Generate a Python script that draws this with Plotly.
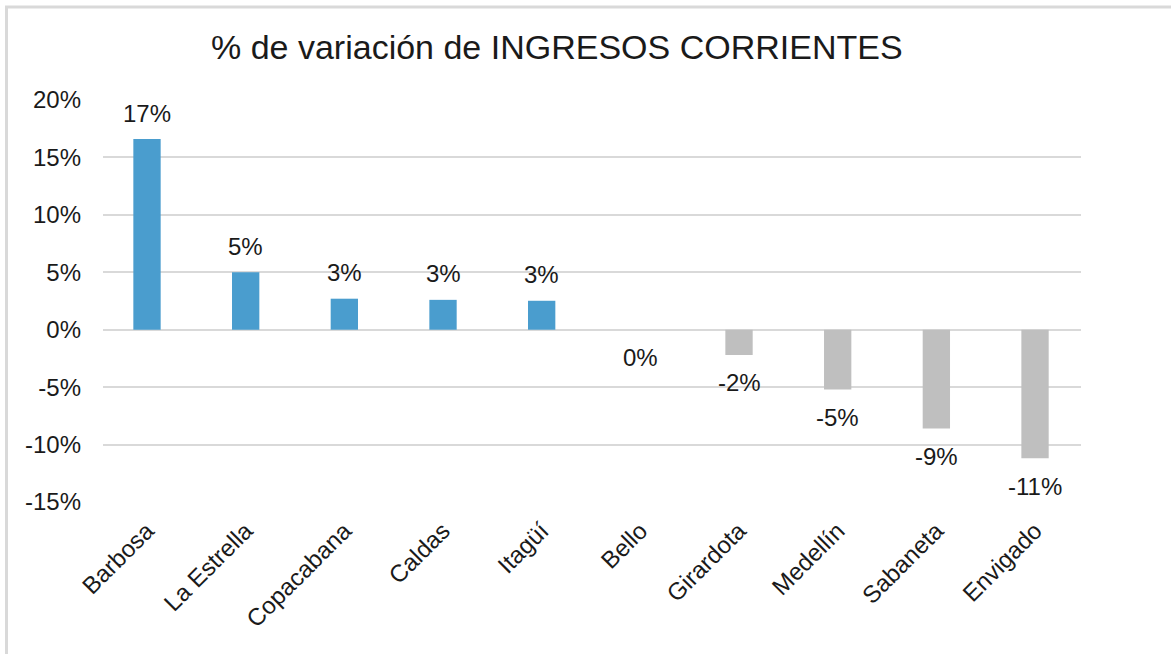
import plotly.graph_objects as go

categories = ["Barbosa", "La Estrella", "Copacabana", "Caldas", "Itagüí",
              "Bello", "Girardota", "Medellín", "Sabaneta", "Envigado"]
values = [0.166, 0.050, 0.027, 0.026, 0.0252, 0.0, -0.022, -0.052, -0.086, -0.112]
tick_vals = [-0.15, -0.10, -0.05, 0.0, 0.05, 0.10, 0.15, 0.20]
tick_text = ["-15%", "-10%", "-5%", "0%", "5%", "10%", "15%", "20%"]
title_text = "% de variación de INGRESOS CORRIENTES"

BLUE = "#4A9DCE"
GREY = "#BFBFBF"
FONT = "Liberation Sans, Arial, sans-serif"
TXT = "#1a1a1a"

colors = [BLUE if v > 0 else GREY for v in values]

fig = go.Figure()
fig.add_trace(go.Bar(x=categories, y=values, marker=dict(color=colors, line=dict(width=0)),
                     width=0.277, hoverinfo="x+y"))

def fmt(v):
    r = int(abs(v) * 100 + 0.5)
    if r == 0:
        return "0%"
    return f"-{r}%" if v < 0 else f"{r}%"

for c, v in zip(categories, values):
    fig.add_annotation(x=c, y=v, text=fmt(v), showarrow=False,
                       yshift=26 if v > 0 else -28,
                       font=dict(family=FONT, size=24, color=TXT))

fig.update_layout(
    width=1171, height=654,
    margin=dict(l=103, r=90, t=100, b=152),
    paper_bgcolor="white", plot_bgcolor="white",
    showlegend=False,
    title=dict(text=title_text, x=0.464, xref="paper", xanchor="center",
               y=1 - 47 / 654, yref="container", yanchor="middle",
               font=dict(family=FONT, size=34, color=TXT)),
    xaxis=dict(range=[-0.446, 9.466], tickangle=-45, showgrid=False, showline=False,
               ticks="", tickfont=dict(family=FONT, size=24, color=TXT),
               ticklabelstandoff=9),
    yaxis=dict(range=[-0.15, 0.20], tickvals=tick_vals, ticktext=tick_text,
               showgrid=True, gridcolor="#D9D9D9", gridwidth=2,
               zeroline=True, zerolinecolor="#D9D9D9", zerolinewidth=2,
               showline=False, ticks="",
               tickfont=dict(family=FONT, size=24, color=TXT),
               ticklabelstandoff=21),
)

# light frame lines (left and top), as in the reference
fig.add_shape(type="line", xref="paper", yref="paper",
              x0=(6.5 - 103) / 978, x1=(6.5 - 103) / 978,
              y0=(502 - 7) / 402, y1=(502 - 660) / 402,
              line=dict(color="#D9D9D9", width=3))
fig.add_shape(type="line", xref="paper", yref="paper",
              x0=(5 - 103) / 978, x1=(1175 - 103) / 978,
              y0=(502 - 7) / 402, y1=(502 - 7) / 402,
              line=dict(color="#D9D9D9", width=3))

fig.write_html("out.html", config={"displayModeBar": False},
               post_script="document.body.style.margin='0';document.body.style.overflow='hidden';")
